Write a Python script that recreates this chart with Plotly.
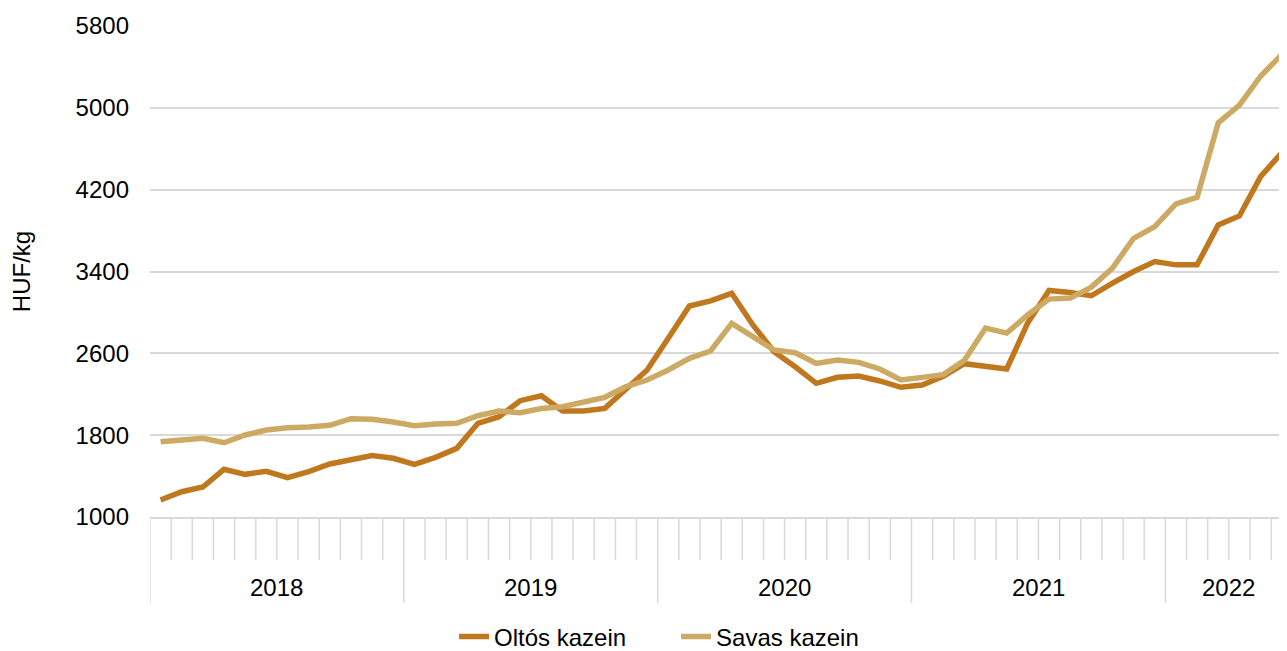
import plotly.graph_objects as go

years = ["2018", "2019", "2020", "2021", "2022"]
months_per_year = [12, 12, 12, 12, 6]
month_labels = [f"{y}-{m:02d}" for y, n in zip(years, months_per_year) for m in range(1, n + 1)]

oltos = [1166, 1247, 1293, 1466, 1417, 1447, 1384, 1443, 1518, 1564, 1600, 1574,
         1515, 1583, 1671, 1916, 1980, 2137, 2185, 2036, 2036, 2062, 2250, 2437,
         2747, 3063, 3112, 3187, 2877, 2616, 2469, 2307, 2366, 2378, 2330, 2268,
         2290, 2376, 2499, 2473, 2447, 2900, 3215, 3195, 3163, 3286, 3400, 3497,
         3465, 3465, 3855, 3943, 4327, 4561]
savas = [1736, 1759, 1769, 1726, 1802, 1850, 1873, 1880, 1896, 1961, 1955, 1929,
         1893, 1909, 1916, 1990, 2036, 2020, 2060, 2078, 2127, 2170, 2274, 2339,
         2437, 2551, 2623, 2893, 2763, 2633, 2606, 2502, 2535, 2512, 2447, 2339,
         2365, 2392, 2532, 2847, 2798, 2977, 3130, 3140, 3247, 3433, 3725, 3839,
         4060, 4125, 4854, 5026, 5309, 5520]
y_ticks = [1000, 1800, 2600, 3400, 4200, 5000, 5800]

FONT = "Liberation Sans, Arial, sans-serif"
FS = 24
GRID = "#d9d9d9"
idx = list(range(len(month_labels)))

fig = go.Figure()
fig.add_trace(go.Scatter(x=idx, y=oltos, mode="lines", name="Oltós kazein",
                         line=dict(color="#C0781F", width=5.5), customdata=month_labels,
                         hovertemplate="%{customdata}: %{y}<extra></extra>"))
fig.add_trace(go.Scatter(x=idx, y=savas, mode="lines", name="Savas kazein",
                         line=dict(color="#CCAA63", width=5.5), customdata=month_labels,
                         hovertemplate="%{customdata}: %{y}<extra></extra>"))

shapes = []
annotations = []
start = 0
year_starts = []
for y, n in zip(years, months_per_year):
    year_starts.append(start)
    annotations.append(dict(x=start + (n - 1) / 2, y=-0.1426, xref="x", yref="paper",
                            text=y, showarrow=False, yanchor="middle",
                            font=dict(family=FONT, size=FS, color="#000000")))
    start += n
for k in range(len(month_labels)):
    is_year = k in year_starts
    shapes.append(dict(type="line", xref="x", yref="paper", x0=k - 0.5, x1=k - 0.5,
                       y0=0, y1=-0.175 if is_year else -0.0876,
                       line=dict(color=GRID, width=1.5)))

# The page body has an 8px margin, so the figure is sized/offset to compensate.
fig.update_layout(
    width=1279, height=643,
    margin=dict(l=142, r=0, t=18, b=134, autoexpand=False),
    paper_bgcolor="white", plot_bgcolor="white",
    font=dict(family=FONT, size=FS, color="#000000"),
    shapes=shapes, annotations=annotations,
    showlegend=True,
    legend=dict(orientation="h", x=0.2674, xanchor="left", y=-0.244, yanchor="middle",
                font=dict(family=FONT, size=FS), entrywidth=177, entrywidthmode="pixels"),
    xaxis=dict(range=[-0.5, 53.25], showticklabels=False, showgrid=False, zeroline=False,
               showline=True, linecolor=GRID, linewidth=1.5, ticks="", automargin=False),
    yaxis=dict(range=[1000, 5800], tickvals=y_ticks, showgrid=True, gridcolor=GRID,
               gridwidth=1.5, zeroline=False, ticks="", ticklabelstandoff=20,
               automargin=False, tickfont=dict(family=FONT, size=FS),
               title=dict(text="HUF/kg", standoff=46, font=dict(family=FONT, size=FS))),
)

fig.write_html("out.html")
